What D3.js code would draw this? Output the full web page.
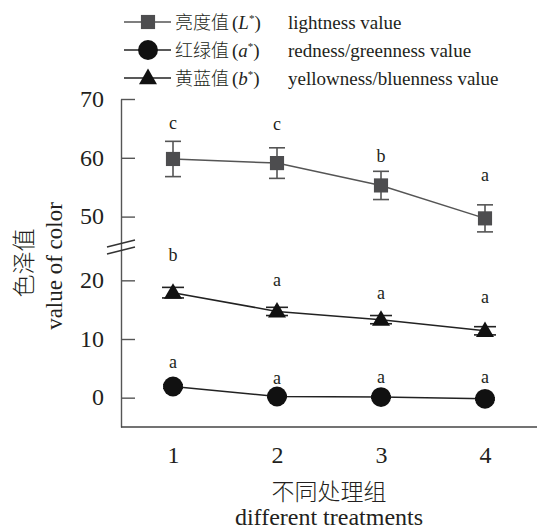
<!DOCTYPE html>
<html lang="zh">
<head>
<meta charset="utf-8">
<script src="https://d3js.org/d3.v7.min.js"></script>
<style>
  body { margin: 0; background: #fff; }
  text { font-family: "Liberation Serif", "Times New Roman", serif; fill: #231f20; }
  .cjk { font-family: "Noto Sans CJK SC", sans-serif; font-weight: 300; }
</style>
</head>
<body>
<svg id="chart"></svg>
<script>
// treatments on the x axis
const treatments = [1, 2, 3, 4];

// lightness L*
const lightMean = [59.8, 59.1, 55.3, 49.7];
const lightErr  = [3.0, 2.6, 2.4, 2.3];
const lightSig  = ["c", "c", "b", "a"];

// redness/greenness a*
const redMean = [1.9, 0.2, 0.1, -0.2];
const redErr  = [0.3, 0.2, 0.2, 0.2];
const redSig  = ["a", "a", "a", "a"];

// yellowness/blueness b*
const yellowMean = [17.9, 14.7, 13.3, 11.4];
const yellowErr  = [0.9, 0.7, 0.7, 0.7];
const yellowSig  = ["b", "a", "a", "a"];

const yTicks = [0, 10, 20, 50, 60, 70];

const width = 537, height = 529;
const serif = "Liberation Serif, Times New Roman, serif";

const svg = d3.select("#chart")
    .attr("width", width)
    .attr("height", height);

const x = d3.scaleLinear().domain([0.5, 4.5]).range([121, 537]);
// broken axis: 25..45 squeezed into the gap
const y = d3.scaleLinear().domain([-5, 25, 45, 70]).range([427, 251, 246, 99]);

// y axis, ticks pointing inwards
const yAxis = svg.append("g")
    .attr("transform", "translate(121,0)")
    .call(d3.axisLeft(y).tickValues(yTicks).tickSizeInner(-14).tickSizeOuter(0).tickPadding(17));
yAxis.select(".domain").attr("stroke", "#555").attr("stroke-width", 1.4);
yAxis.selectAll(".tick line").attr("stroke", "#555").attr("stroke-width", 1.4);
yAxis.selectAll(".tick text")
    .style("font-size", "24px")
    .style("font-family", serif)
    .attr("dy", "0.3em")
    .attr("fill", "#231f20");

// break marks
[0, 7].forEach(dy => {
  svg.append("line")
      .attr("x1", 107).attr("y1", 250 + dy - 3)
      .attr("x2", 135).attr("y2", 243 + dy - 3)
      .attr("stroke", "#333").attr("stroke-width", 1.3);
});

// x axis
svg.append("line")
    .attr("x1", 121).attr("x2", 537)
    .attr("y1", 427).attr("y2", 427)
    .attr("stroke", "#444").attr("stroke-width", 1.4);
const xAxis = svg.append("g")
    .attr("transform", "translate(0,427)")
    .call(d3.axisBottom(x).tickValues(treatments).tickSize(0).tickPadding(19).tickFormat(d3.format("d")));
xAxis.select(".domain").remove();
xAxis.selectAll(".tick text")
    .style("font-size", "24px")
    .style("font-family", serif)
    .attr("fill", "#231f20");

// axis titles
svg.append("text").attr("class", "cjk")
    .attr("x", 329).attr("y", 500)
    .attr("text-anchor", "middle").style("font-size", "23px")
    .text("不同处理组");
svg.append("text")
    .attr("x", 329).attr("y", 525)
    .attr("text-anchor", "middle").style("font-size", "24px")
    .text("different treatments");
svg.append("text").attr("class", "cjk")
    .attr("transform", "translate(32,263) rotate(-90)")
    .attr("text-anchor", "middle").style("font-size", "23px")
    .text("色泽值");
svg.append("text")
    .attr("transform", "translate(62,266) rotate(-90)")
    .attr("text-anchor", "middle").style("font-size", "23px")
    .text("value of color");

const series = [
  { mean: lightMean, err: lightErr, sig: lightSig, shape: "square", fill: "#4d4d4f", line: "#555", cap: 16, sigOff: [17, 23, 14, 29] },
  { mean: yellowMean, err: yellowErr, sig: yellowSig, shape: "triangle", fill: "#111", line: "#222", cap: 22, sigOff: [31, 26, 22, 29] },
  { mean: redMean, err: redErr, sig: redSig, shape: "circle", fill: "#111", line: "#222", cap: 20, sigOff: [22, 16, 18, 20] }
];

const symbols = {
  square: d3.symbol().type(d3.symbolSquare).size(200),
  triangle: d3.symbol().type(d3.symbolTriangle).size(140),
  circle: d3.symbol().type(d3.symbolCircle).size(310)
};

series.forEach(s => {
  const pts = treatments.map((t, i) => ({ t, m: s.mean[i], e: s.err[i], sig: s.sig[i], off: s.sigOff[i] }));
  const g = svg.append("g");

  g.append("path")
      .datum(pts)
      .attr("fill", "none")
      .attr("stroke", s.line)
      .attr("stroke-width", 1.5)
      .attr("d", d3.line().x(d => x(d.t)).y(d => y(d.m)));

  const eb = g.selectAll(".eb").data(pts).enter().append("g").attr("stroke", s.line).attr("stroke-width", 1.6);
  eb.append("line")
      .attr("x1", d => x(d.t)).attr("x2", d => x(d.t))
      .attr("y1", d => y(d.m + d.e)).attr("y2", d => y(d.m - d.e));
  eb.append("line")
      .attr("x1", d => x(d.t) - s.cap / 2).attr("x2", d => x(d.t) + s.cap / 2)
      .attr("y1", d => y(d.m + d.e)).attr("y2", d => y(d.m + d.e));
  eb.append("line")
      .attr("x1", d => x(d.t) - s.cap / 2).attr("x2", d => x(d.t) + s.cap / 2)
      .attr("y1", d => y(d.m - d.e)).attr("y2", d => y(d.m - d.e));

  g.selectAll(".mk").data(pts).enter().append("path")
      .attr("d", symbols[s.shape])
      .attr("transform", d => `translate(${x(d.t)},${y(d.m) + (s.shape === "triangle" ? 1 : 0)})`)
      .attr("fill", s.fill);

  g.selectAll(".sig").data(pts).enter().append("text")
      .attr("x", d => x(d.t))
      .attr("y", d => y(d.m + d.e) - d.off + 5)
      .attr("text-anchor", "middle")
      .style("font-size", "18px")
      .text(d => d.sig);
});

// legend
const legendRows = [
  { shape: "square", fill: "#4d4d4f", line: "#555", cn: "亮度值", v: "L", en: "lightness value" },
  { shape: "circle", fill: "#111", line: "#222", cn: "红绿值", v: "a", en: "redness/greenness value" },
  { shape: "triangle", fill: "#111", line: "#222", cn: "黄蓝值", v: "b", en: "yellowness/bluenness value" }
];
const legend = svg.selectAll(".lg").data(legendRows).enter().append("g")
    .attr("transform", (d, i) => `translate(0,${22 + i * 28})`);
legend.append("line")
    .attr("x1", 124).attr("x2", 171).attr("y1", 0).attr("y2", 0)
    .attr("stroke", d => d.line).attr("stroke-width", 1.5);
legend.append("path")
    .attr("d", d => symbols[d.shape]())
    .attr("transform", d => `translate(148,${d.shape === "triangle" ? 1 : 0})`)
    .attr("fill", d => d.fill);
legend.append("text").attr("class", "cjk")
    .attr("x", 175).attr("y", 7)
    .style("font-size", "18px")
    .text(d => d.cn);
const paren = legend.append("text")
    .attr("x", 232).attr("y", 7)
    .style("font-size", "19px");
paren.append("tspan").text("(");
paren.append("tspan").style("font-style", "italic").text(d => d.v);
paren.append("tspan").attr("dy", -7).style("font-size", "11px").text("*");
paren.append("tspan").attr("dy", 7).text(")");
legend.append("text")
    .attr("x", 288).attr("y", 7)
    .style("font-size", "19px")
    .text(d => d.en);
</script>
</body>
</html>
